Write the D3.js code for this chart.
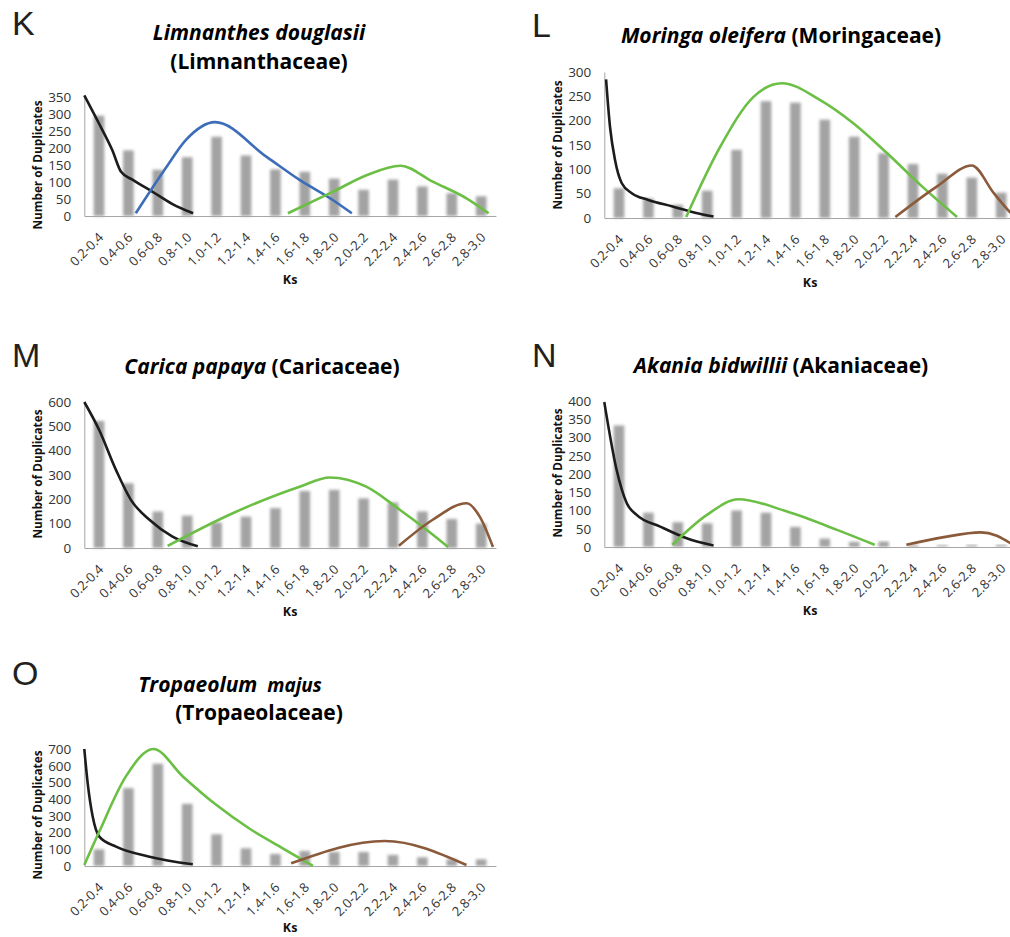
<!DOCTYPE html>
<html>
<head>
<meta charset="utf-8">
<script src="https://cdn.jsdelivr.net/npm/d3@7"></script>
<style>
html,body{margin:0;padding:0;background:#fff;}
svg{display:block;}
</style>
</head>
<body>
<script>
// ---------- DATA ----------
const categories = ["0.2-0.4","0.4-0.6","0.6-0.8","0.8-1.0","1.0-1.2","1.2-1.4","1.4-1.6","1.6-1.8","1.8-2.0","2.0-2.2","2.2-2.4","2.4-2.6","2.6-2.8","2.8-3.0"];
const ksDomain = [0.2, 3.0];

// K: Limnanthes douglasii
const barsK = [295,193,136,173,233,178,137,130,110,77,107,87,67,58];
const blackK = [[0.2,355],[0.30,272],[0.39,194],[0.45,130],[0.53,106],[0.665,71],[0.80,35],[0.94,8]];
const blueK = [[0.55,8],[0.76,145],[0.89,223],[1.09,276],[1.44,174],[1.665,106],[1.89,47],[2.02,8]];
const greenK = [[1.585,8],[1.89,71],[2.12,120],[2.35,148],[2.57,101],[2.80,52],[2.95,8]];
const yTicksK = [0,50,100,150,200,250,300,350];

// L: Moringa oleifera
const barsL = [61,40,27,56,140,240,237,202,167,133,111,91,83,52];
const blackL = [[0.212,285],[0.239,187],[0.273,119],[0.318,72],[0.387,51],[0.50,37],[0.659,24],[0.818,11],[0.943,3]];
const greenL = [[0.757,2],[0.988,146],[1.215,249],[1.408,277],[1.669,242],[1.896,194],[2.124,133],[2.35,68],[2.6,2]];
const brownL = [[2.18,2],[2.464,65],[2.70,108],[2.85,51],[2.96,12],[3.0,0]];
const yTicksL = [0,50,100,150,200,250,300];

// M: Carica papaya
const barsM = [522,266,150,133,105,129,164,234,239,204,187,150,119,100];
const blackM = [[0.2,600],[0.302,484],[0.416,320],[0.517,198],[0.643,116],[0.80,47],[0.972,7]];
const greenM = [[0.767,9],[1.21,143],[1.665,252],[1.87,290],[2.118,252],[2.346,157],[2.528,75],[2.675,4]];
const brownM = [[2.34,9],[2.57,116],[2.80,184],[2.89,129],[2.98,4]];
const yTicksM = [0,100,200,300,400,500,600];

// N: Akania bidwillii
const barsN = [333,94,68,65,100,94,55,23,14,15,6,5,6,6];
const blackN = [[0.2,397],[0.284,211],[0.353,120],[0.42,88],[0.58,56],[0.76,24],[0.943,4]];
const greenN = [[0.663,6],[0.898,88],[1.113,131],[1.443,97],[1.783,47],[2.04,6]];
const brownN = [[2.255,6],[2.51,27],[2.76,40],[2.87,31],[2.96,11],[3.0,2]];
const yTicksN = [0,50,100,150,200,250,300,350,400];

// O: Tropaeolum majus
const barsO = [100,466,612,372,190,106,72,90,84,84,66,52,40,40];
const blackO = [[0.2,700],[0.223,496],[0.257,296],[0.302,176],[0.416,116],[0.643,56],[0.938,10]];
const greenO = [[0.2,6],[0.302,206],[0.483,536],[0.67,700],[0.87,536],[1.097,366],[1.32,226],[1.55,106],[1.755,0]];
const brownO = [[1.607,16],[2.244,150],[2.8,6]];
const yTicksO = [0,100,200,300,400,500,600,700];

// ---------- STYLE / LAYOUT ----------
const COL = {black:"#1c1c1c", blue:"#3d6db9", green:"#6bbf45", brown:"#8a5a3b"};
const FONT = "'Open Sans', Lato, sans-serif";

const panels = [
  {letter:"K", lx:12, ly:35, left:84.3, top:97, bottom:216, ticks:yTicksK, bars:barsK,
   curves:[[blackK,COL.black],[blueK,COL.blue],[greenK,COL.green]],
   title:[{y:40, x:259, parts:[{t:"Limnanthes douglasii", it:true}]},{y:69, x:259, parts:[{t:"(Limnanthaceae)"}]}],
   yTitleX:38, yTitleY:165, ksY:284},
  {letter:"L", lx:532, ly:37, left:604.3, top:72, bottom:218, ticks:yTicksL, bars:barsL,
   curves:[[blackL,COL.black],[greenL,COL.green],[brownL,COL.brown]],
   title:[{y:43, x:781, parts:[{t:"Moringa oleifera", it:true},{t:" (Moringaceae)"}]}],
   yTitleX:558, yTitleY:145, ksY:287},
  {letter:"M", lx:12, ly:367, left:84.3, top:402, bottom:548, ticks:yTicksM, bars:barsM,
   curves:[[blackM,COL.black],[greenM,COL.green],[brownM,COL.brown]],
   title:[{y:374, x:262, parts:[{t:"Carica papaya", it:true},{t:" (Caricaceae)"}]}],
   yTitleX:38, yTitleY:474, ksY:616},
  {letter:"N", lx:532, ly:367, left:604.3, top:401, bottom:547, ticks:yTicksN, bars:barsN,
   curves:[[blackN,COL.black],[greenN,COL.green],[brownN,COL.brown]],
   title:[{y:373, x:781, parts:[{t:"Akania bidwillii", it:true},{t:" (Akaniaceae)"}]}],
   yTitleX:558, yTitleY:473, ksY:615},
  {letter:"O", lx:12, ly:685, left:84.3, top:749, bottom:866, ticks:yTicksO, bars:barsO,
   curves:[[blackO,COL.black],[greenO,COL.green],[brownO,COL.brown]],
   title:[{y:692, x:230, parts:[{t:"Tropaeolum", it:true},{t:"  majus", it:true, small:true}]},{y:720, x:259, parts:[{t:"(Tropaeolaceae)"}]}],
   yTitleX:38, yTitleY:815, ksY:932}
];

const STEP = 29.4;
const W = 1010, H = 937;
const svg = d3.select("body").append("svg").attr("width", W).attr("height", H);

const defs = svg.append("defs");
defs.append("filter").attr("id","blur").attr("x","-50%").attr("y","-20%").attr("width","200%").attr("height","140%")
  .append("feGaussianBlur").attr("stdDeviation", 1.4);

panels.forEach(p => {
  const g = svg.append("g");
  const right = p.left + STEP * categories.length;
  const x = d3.scaleBand().domain(categories).range([p.left, right]).paddingInner(0.64).paddingOuter(0.32);
  const xk = d3.scaleLinear().domain(ksDomain).range([p.left, right]);
  const y = d3.scaleLinear().domain([0, d3.max(p.ticks)]).range([p.bottom, p.top]);

  // panel letter
  g.append("text").attr("x", p.lx).attr("y", p.ly).text(p.letter)
    .attr("font-family","'Liberation Sans', Arial, sans-serif").attr("font-size", 34).attr("fill","#231f20");

  // title
  p.title.forEach(line => {
    const t = g.append("text").attr("x", line.x).attr("y", line.y).attr("text-anchor","middle")
      .attr("font-family", FONT).attr("font-weight","bold").attr("font-size", 21).attr("fill","#000")
      .style("white-space","pre");
    line.parts.forEach(pt => {
      t.append("tspan").text(pt.t).attr("font-style", pt.it ? "italic" : "normal")
        .attr("font-size", pt.small ? 19 : 21);
    });
  });

  // bars
  g.append("g").selectAll("rect").data(p.bars).join("rect")
    .attr("x", (d,i) => x(categories[i]))
    .attr("width", x.bandwidth())
    .attr("y", d => y(d))
    .attr("height", d => y(0) - y(d))
    .attr("fill", "#a3a3a3")
    .attr("filter", "url(#blur)");

  // axes
  const yAxis = d3.axisLeft(y).tickValues(p.ticks).tickSize(0).tickPadding(13).tickFormat(d3.format("d"));
  const ya = g.append("g").attr("transform", `translate(${p.left},0)`).call(yAxis);
  ya.attr("font-size", null).attr("font-family", null);
  ya.select(".domain").attr("stroke", "#a6a6a6").attr("stroke-width", 1);
  ya.selectAll("text").style("font-family", FONT).style("font-size", "13.5px").attr("fill", "#333");

  const xAxis = d3.axisBottom(x).tickSize(0).tickPadding(0);
  const xa = g.append("g").attr("transform", `translate(0,${p.bottom})`).call(xAxis);
  xa.attr("font-size", null).attr("font-family", null);
  xa.select(".domain").attr("stroke", "#a6a6a6").attr("stroke-width", 1.2);
  xa.selectAll("text").style("font-family", FONT).style("font-size", "13px").attr("fill", "#333")
    .attr("text-anchor", "end").attr("dy", "0.35em")
    .attr("transform", "translate(2,19) rotate(-45)");

  // curves
  const line = d3.line().x(d => xk(d[0])).y(d => y(d[1])).curve(d3.curveMonotoneX);
  p.curves.forEach(([data, col]) => {
    g.append("path").datum(data).attr("d", line).attr("fill","none")
      .attr("stroke", col).attr("stroke-width", 2.6).attr("stroke-linecap","butt").attr("stroke-linejoin","round");
  });

  // axis titles
  g.append("text").attr("transform", `translate(${p.yTitleX},${p.yTitleY}) rotate(-90)`)
    .attr("text-anchor","middle").attr("dy","0.35em").text("Number of Duplicates")
    .style("font-family", FONT).attr("font-weight","bold").style("font-size", "11.8px").attr("fill","#111");
  g.append("text").attr("x", (p.left + right) / 2).attr("y", p.ksY).attr("text-anchor","middle")
    .text("Ks").style("font-family", FONT).attr("font-weight","bold").style("font-size", "12.5px").attr("fill","#111");
});
</script>
</body>
</html>
